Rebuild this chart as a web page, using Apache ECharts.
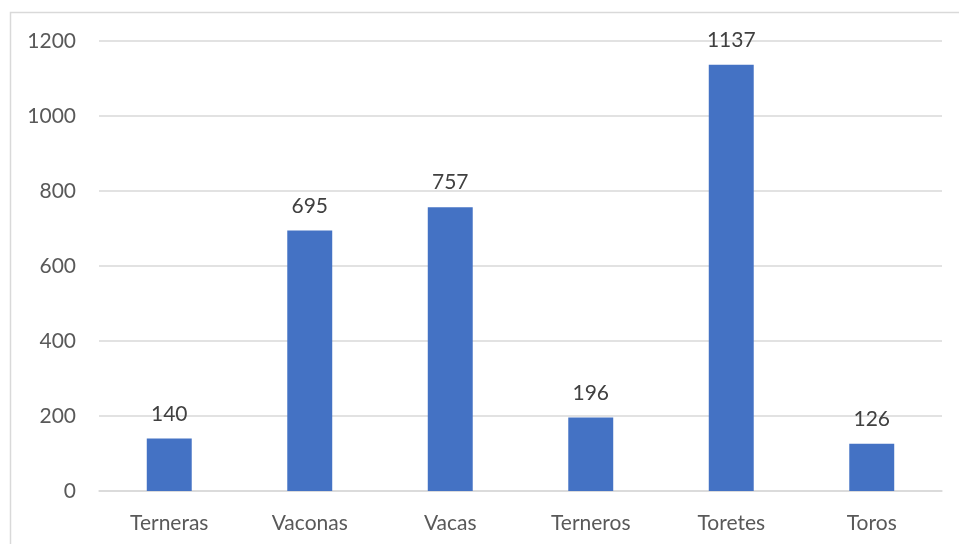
<!DOCTYPE html>
<html><head><meta charset="utf-8">
<script src="https://cdn.jsdelivr.net/npm/echarts@6/dist/echarts.min.js"></script>
<style>html,body{margin:0;padding:0;background:#fff}#c{width:959px;height:544px}</style>
</head><body><div id="c"></div>
<script>
const categories = ['Terneras','Vaconas','Vacas','Terneros','Toretes','Toros'];
const values = [140, 695, 757, 196, 1137, 126];
const yTicks = [0, 200, 400, 600, 800, 1000, 1200];

const chart = echarts.init(document.getElementById('c'));
const font = 'Lato, Open Sans, sans-serif';
chart.setOption({
  animation: false,
  graphic: [{type:'rect', shape:{x:10.5,y:12.5,width:1000,height:600}, style:{fill:'none', stroke:'#d9d9d9', lineWidth:1.5}, silent:true}],
  grid: {left: 99, right: 17, top: 41, bottom: 53, containLabel: false},
  xAxis: {
    type: 'category', data: categories,
    axisLine: {lineStyle: {color: '#d9d9d9', width: 1.5}},
    axisTick: {show: false},
    axisLabel: {color: '#595959', fontSize: 21, fontFamily: font, margin: 22}
  },
  yAxis: {
    type: 'value', min: yTicks[0], max: yTicks[yTicks.length-1], interval: 200,
    axisLine: {show: false}, axisTick: {show: false},
    splitLine: {lineStyle: {color: '#d9d9d9', width: 1.5}},
    axisLabel: {color: '#595959', fontSize: 21, fontFamily: font, margin: 23, formatter: v => String(v)}
  },
  series: [{
    type: 'bar', data: values, barWidth: '32%',
    itemStyle: {color: '#4472C4'},
    label: {show: true, position: 'top', distance: 14, color: '#404040', fontSize: 21, fontFamily: font}
  }]
});
</script></body></html>
